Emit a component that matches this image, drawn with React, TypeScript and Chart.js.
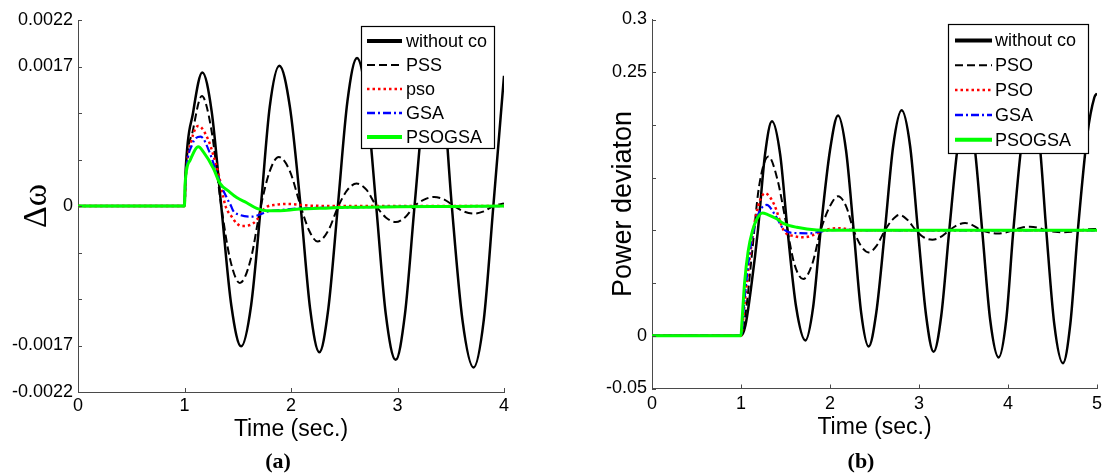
import React, { useEffect, useRef } from 'react';
import { Chart, registerables } from 'chart.js';

Chart.register(...registerables);

const FONT = "'Liberation Sans', Arial, sans-serif";
const AXIS = '#4a4a4a';

// ---------- Chart (a): speed deviation ----------
const labelsA = ['without co', 'PSS', 'pso', 'GSA', 'PSOGSA'];
const xTicksA = [0, 1, 2, 3, 4];
const xLabelsA = ['0', '1', '2', '3', '4'];
const yTicksA = [-0.0022, -0.00165, -0.0011, -0.00055, 0, 0.00055, 0.0011, 0.00165, 0.0022];
const yLabelsA = ['-0.0022', '-0.0017', '', '', '0', '', '', '0.0017', '0.0022'];

const aNoCoT = [0, 1.0, 1.01, 1.08, 1.167, 1.255, 1.345, 1.44, 1.532, 1.625, 1.717, 1.8, 1.89, 1.99, 2.09, 2.18, 2.266, 2.35, 2.44, 2.53, 2.62, 2.71, 2.8, 2.89, 2.983, 3.07, 3.16, 3.255, 3.35, 3.43, 3.51, 3.61, 3.714, 3.81, 3.9, 4.0];
const aNoCoV = [0, 0, 0.0004, 0.0011, 0.00158, 0.00112, 0, -0.00118, -0.00166, -0.00118, 0, 0.00117, 0.00166, 0.00117, 0, -0.00122, -0.00173, -0.00122, 0, 0.00124, 0.00175, 0.00124, 0, -0.00128, -0.00182, -0.00128, 0, 0.0013, 0.00184, 0.0013, 0, -0.00135, -0.00191, -0.00135, 0, 0.00154];

const aPssT = [0, 1.0, 1.01, 1.08, 1.163, 1.25, 1.345, 1.43, 1.52, 1.62, 1.717, 1.8, 1.885, 1.99, 2.09, 2.17, 2.25, 2.35, 2.445, 2.53, 2.615, 2.71, 2.8, 2.89, 2.983, 3.07, 3.16, 3.25, 3.343, 3.44, 3.53, 3.62, 3.714, 3.81, 3.9, 4.0];
const aPssV = [0, 0, 0.00035, 0.0009, 0.0013, 0.00092, 0, -0.00064, -0.00091, -0.00064, 0, 0.00041, 0.00058, 0.00041, 0, -0.00029, -0.00042, -0.00029, 0, 0.00019, 0.000265, 0.00019, 0, -0.000135, -0.00019, -0.000135, 0, 0.000076, 0.000107, 0.000076, 0, -0.000064, -0.00009, -0.000064, 0, 0.00003];

const aPsoT = [0, 1.0, 1.01, 1.067, 1.13, 1.224, 1.271, 1.318, 1.385, 1.443, 1.49, 1.537, 1.615, 1.678, 1.725, 1.772, 1.86, 1.96, 2.08, 2.2, 2.5, 4.0];
const aPsoV = [0, 0, 0.0003, 0.00078, 0.000947, 0.00078, 0.0006, 0.00039, 0, -0.000126, -0.000205, -0.000237, -0.000225, -0.000166, -0.000067, -0.00001, 0.000015, 0.000024, 0.000015, 0.000003, 0, 0];

const aGsaT = [0, 1.0, 1.01, 1.07, 1.152, 1.239, 1.302, 1.349, 1.412, 1.437, 1.459, 1.52, 1.63, 1.709, 1.772, 1.897, 2.115, 2.43, 3.0, 4.0];
const aGsaV = [0, 0, 0.0003, 0.00072, 0.00082, 0.000623, 0.000387, 0.000228, 0.00006, 0, -0.00006, -0.000106, -0.000126, -0.0001, -0.000067, -0.000047, -0.000027, -0.00002, -0.000008, 0];

const aPgT = [0, 1.0, 1.005, 1.052, 1.13, 1.177, 1.271, 1.333, 1.42, 1.49, 1.584, 1.678, 1.772, 1.897, 2.053, 2.27, 2.554, 3.0, 3.5, 4.0];
const aPgV = [0, 0, 0.00025, 0.00054, 0.0007, 0.00064, 0.000446, 0.000268, 0.00017, 0.0001, 0.000039, -0.000028, -0.000055, -0.000055, -0.000039, -0.000028, -0.000016, -0.00001, -0.000005, 0];

// ---------- Chart (b): power deviation ----------
const labelsB = ['without co', 'PSO', 'PSO', 'GSA', 'PSOGSA'];
const xTicksB = [0, 1, 2, 3, 4, 5];
const xLabelsB = ['0', '1', '2', '3', '4', '5'];
const yTicksB = [-0.05, 0, 0.05, 0.1, 0.15, 0.2, 0.25, 0.3];
const yLabelsB = ['-0.05', '0', '', '', '', '', '0.25', '0.3'];

const bNoCoT = [0, 1.0, 1.05, 1.12, 1.19, 1.27, 1.348, 1.44, 1.523, 1.62, 1.723, 1.81, 1.895, 2.0, 2.09, 2.18, 2.266, 2.35, 2.434, 2.52, 2.617, 2.71, 2.805, 2.9, 2.988, 3.08, 3.164, 3.25, 3.34, 3.44, 3.53, 3.62, 3.71, 3.8, 3.895, 3.98, 4.06, 4.16, 4.26, 4.35, 4.43, 4.52, 4.617, 4.7, 4.785, 4.89, 4.97, 5.0];
const bNoCoV = [0, 0, 0.01, 0.05, 0.1, 0.172, 0.2035, 0.172, 0.1, 0.027, -0.0044, 0.027, 0.1, 0.176, 0.2089, 0.176, 0.1, 0.022, -0.0101, 0.022, 0.1, 0.18, 0.2139, 0.18, 0.1, 0.019, -0.0152, 0.019, 0.1, 0.183, 0.219, 0.183, 0.1, 0.015, -0.0206, 0.015, 0.1, 0.187, 0.224, 0.187, 0.1, 0.011, -0.026, 0.011, 0.1, 0.19, 0.226, 0.23];

const bPssT = [0, 1.0, 1.05, 1.12, 1.2, 1.309, 1.41, 1.5, 1.6, 1.7, 1.8, 1.895, 2.0, 2.09, 2.18, 2.266, 2.35, 2.434, 2.52, 2.617, 2.7, 2.78, 2.87, 2.965, 3.05, 3.15, 3.24, 3.34, 3.43, 3.517, 3.6, 3.7, 3.79, 3.88, 3.97, 4.06, 4.15, 4.247, 4.34, 4.43, 4.53, 4.62, 4.71, 4.8, 4.9, 5.0];
const bPssV = [0, 0, 0.02, 0.075, 0.14, 0.17, 0.148, 0.11, 0.068, 0.0538, 0.068, 0.1, 0.123, 0.1323, 0.123, 0.1, 0.085, 0.0791, 0.085, 0.1, 0.11, 0.1148, 0.11, 0.1, 0.0935, 0.0912, 0.0935, 0.1, 0.105, 0.107, 0.105, 0.1, 0.098, 0.097, 0.098, 0.1, 0.1025, 0.1035, 0.1025, 0.1, 0.0987, 0.0982, 0.0987, 0.1, 0.101, 0.1013];

const bPsoT = [0, 1.0, 1.04, 1.1, 1.17, 1.27, 1.37, 1.48, 1.6, 1.719, 1.85, 1.95, 2.11, 2.3, 5.0];
const bPsoV = [0, 0, 0.03, 0.075, 0.115, 0.1352, 0.125, 0.1, 0.0945, 0.0935, 0.097, 0.1005, 0.102, 0.1, 0.1];

const bGsaT = [0, 1.0, 1.04, 1.1, 1.18, 1.289, 1.38, 1.48, 1.6, 1.775, 1.9, 2.1, 2.5, 5.0];
const bGsaV = [0, 0, 0.035, 0.08, 0.112, 0.1241, 0.115, 0.101, 0.0975, 0.0972, 0.099, 0.1005, 0.1, 0.1];

const bPgT = [0, 1.0, 1.01, 1.04, 1.08, 1.13, 1.18, 1.24, 1.3, 1.4, 1.476, 1.627, 1.85, 2.2, 5.0];
const bPgV = [0, 0, 0.012, 0.05, 0.08, 0.1, 0.111, 0.1165, 0.115, 0.111, 0.1067, 0.1029, 0.1004, 0.1, 0.1];

// ---------- styles ----------
const STYLES = [
  { color: '#000000', width: 2.5, dash: [] as number[], legendWidth: 4 },
  { color: '#000000', width: 2, dash: [8, 4], legendWidth: 2 },
  { color: '#ff0000', width: 2.5, dash: [2.5, 3], legendWidth: 2.5 },
  { color: '#0000ff', width: 2.2, dash: [8, 3, 2, 3], legendWidth: 2.5 },
  { color: '#00ff00', width: 3, dash: [] as number[], legendWidth: 4 },
];

function pts(ts: number[], vs: number[]) {
  return ts.map((t, i) => ({ x: t, y: vs[i] }));
}

function makeDatasets(labels: string[], series: { x: number; y: number }[][]) {
  return series.map((data, i) => ({
    label: labels[i],
    data,
    borderColor: STYLES[i].color,
    borderWidth: STYLES[i].width,
    borderDash: STYLES[i].dash,
    pointRadius: 0,
    fill: false,
    tension: 0.4,
    cubicInterpolationMode: 'monotone' as const,
    order: 4 - i,
  }));
}

function inwardTicks() {
  return {
    id: 'inwardTicks',
    afterDatasetsDraw(chart: any) {
      const { ctx, chartArea, scales } = chart;
      ctx.save();
      ctx.strokeStyle = AXIS;
      ctx.lineWidth = 1;
      ctx.beginPath();
      scales.x.ticks.forEach((t: any) => {
        const px = Math.round(scales.x.getPixelForValue(t.value)) + 0.5;
        ctx.moveTo(px, chartArea.bottom);
        ctx.lineTo(px, chartArea.bottom - 4);
      });
      scales.y.ticks.forEach((t: any) => {
        const py = Math.round(scales.y.getPixelForValue(t.value)) + 0.5;
        ctx.moveTo(chartArea.left, py);
        ctx.lineTo(chartArea.left + 4, py);
      });
      ctx.stroke();
      ctx.restore();
    },
  };
}

function boxLegend(cfg: { box: number[]; rowY: number; rowStep: number; lineX0: number; lineX1: number; textX: number }) {
  return {
    id: 'boxLegend',
    afterDatasetsDraw(chart: any) {
      const { ctx } = chart;
      const [x0, y0, x1, y1] = cfg.box;
      ctx.save();
      ctx.fillStyle = '#ffffff';
      ctx.fillRect(x0, y0, x1 - x0, y1 - y0);
      ctx.strokeStyle = '#000000';
      ctx.lineWidth = 1.2;
      ctx.setLineDash([]);
      ctx.strokeRect(x0 + 0.5, y0 + 0.5, x1 - x0, y1 - y0);
      chart.data.datasets.forEach((ds: any, i: number) => {
        const y = cfg.rowY + i * cfg.rowStep;
        ctx.beginPath();
        ctx.setLineDash(STYLES[i].dash);
        ctx.lineWidth = STYLES[i].legendWidth;
        ctx.strokeStyle = STYLES[i].color;
        ctx.moveTo(cfg.lineX0, y);
        ctx.lineTo(cfg.lineX1, y);
        ctx.stroke();
        ctx.setLineDash([]);
        ctx.fillStyle = '#000000';
        ctx.font = `18px ${FONT}`;
        ctx.textBaseline = 'middle';
        ctx.textAlign = 'left';
        ctx.fillText(ds.label, cfg.textX, y + 1);
      });
      ctx.restore();
    },
  };
}

function makeConfig(o: {
  labels: string[];
  series: { x: number; y: number }[][];
  xTicks: number[];
  xLabels: string[];
  yTicks: number[];
  yLabels: string[];
  xMax: number;
  padTop: number;
  padRight: number;
  yWidth: number;
  xHeight: number;
  xTitlePad: number;
  xLabelPad: number;
  yTitle: string;
  yTitleFont: any;
  yTitlePad: number;
  legend: any;
}) {
  return {
    type: 'line' as const,
    data: { datasets: makeDatasets(o.labels, o.series) },
    options: {
      animation: false as const,
      responsive: false,
      maintainAspectRatio: false,
      events: [] as any[],
      layout: { padding: { top: o.padTop, right: o.padRight, left: 0, bottom: 0 } },
      plugins: { legend: { display: false }, tooltip: { enabled: false } },
      scales: {
        x: {
          type: 'linear' as const,
          min: 0,
          max: o.xMax,
          afterBuildTicks: (s: any) => {
            s.ticks = o.xTicks.map((value) => ({ value }));
          },
          afterFit: (s: any) => {
            s.height = o.xHeight;
          },
          grid: { display: false, drawTicks: false },
          border: { display: true, color: AXIS, width: 1 },
          ticks: {
            autoSkip: false,
            maxRotation: 0,
            padding: o.xLabelPad,
            color: '#000',
            font: { family: FONT, size: 18 },
            callback: (_v: any, i: number) => o.xLabels[i],
          },
          title: {
            display: true,
            text: 'Time (sec.)',
            color: '#000',
            font: { family: FONT, size: 23 },
            padding: { top: 0, bottom: o.xTitlePad },
          },
        },
        y: {
          type: 'linear' as const,
          min: o.yTicks[0],
          max: o.yTicks[o.yTicks.length - 1],
          afterBuildTicks: (s: any) => {
            s.ticks = o.yTicks.map((value) => ({ value }));
          },
          afterFit: (s: any) => {
            s.width = o.yWidth;
          },
          grid: { display: false, drawTicks: false },
          border: { display: true, color: AXIS, width: 1 },
          ticks: {
            autoSkip: false,
            padding: 5,
            color: '#000',
            font: { family: FONT, size: 18 },
            callback: (_v: any, i: number) => o.yLabels[i],
          },
          title: {
            display: true,
            text: o.yTitle,
            color: '#000',
            font: o.yTitleFont,
            padding: { top: o.yTitlePad, bottom: 0 },
          },
        },
      },
    },
    plugins: [inwardTicks(), boxLegend(o.legend)],
  };
}

export default function App() {
  const refA = useRef<HTMLCanvasElement>(null);
  const refB = useRef<HTMLCanvasElement>(null);

  useEffect(() => {
    document.body.style.margin = '0';
    const cfgA = makeConfig({
      labels: labelsA,
      series: [pts(aNoCoT, aNoCoV), pts(aPssT, aPssV), pts(aPsoT, aPsoV), pts(aGsaT, aGsaV), pts(aPgT, aPgV)],
      xTicks: xTicksA,
      xLabels: xLabelsA,
      yTicks: yTicksA,
      yLabels: yLabelsA,
      xMax: 4,
      padTop: 20,
      padRight: 56,
      yWidth: 78,
      xHeight: 82,
      xTitlePad: 31,
      xLabelPad: 3,
      yTitle: 'Δω',
      yTitleFont: { family: "'Liberation Serif', serif", size: 34 },
      yTitlePad: 17,
      legend: { box: [361, 26, 494, 148], rowY: 41, rowStep: 24, lineX0: 367, lineX1: 402, textX: 406 },
    });
    const cfgB = makeConfig({
      labels: labelsB,
      series: [pts(bNoCoT, bNoCoV), pts(bPssT, bPssV), pts(bPsoT, bPsoV), pts(bGsaT, bGsaV), pts(bPgT, bPgV)],
      xTicks: xTicksB,
      xLabels: xLabelsB,
      yTicks: yTicksB,
      yLabels: yLabelsB,
      xMax: 5,
      padTop: 19.5,
      padRight: 23,
      yWidth: 92,
      xHeight: 85.5,
      xTitlePad: 33,
      xLabelPad: 5,
      yTitle: 'Power deviaton',
      yTitleFont: { family: FONT, size: 27 },
      yTitlePad: 47,
      legend: { box: [388, 24, 528, 153], rowY: 40.5, rowStep: 24.8, lineX0: 395, lineX1: 432, textX: 435 },
    });
    const a = new Chart(refA.current as HTMLCanvasElement, cfgA as any);
    const b = new Chart(refB.current as HTMLCanvasElement, cfgB as any);
    return () => {
      a.destroy();
      b.destroy();
    };
  }, []);

  const capStyle: React.CSSProperties = {
    position: 'absolute',
    top: 461,
    transform: 'translate(-50%, -50%)',
    font: "bold 22px 'Liberation Serif', 'Times New Roman', serif",
    color: '#000',
    whiteSpace: 'nowrap',
  };

  return (
    <div style={{ position: 'fixed', left: 0, top: 0, width: 1102, height: 474, background: '#fff', overflow: 'hidden' }}>
      <div style={{ position: 'absolute', left: 0, top: 0, width: 560, height: 474 }}>
        <canvas ref={refA} width={560} height={474} style={{ display: 'block' }} />
      </div>
      <div style={{ position: 'absolute', left: 560, top: 0, width: 542, height: 474, overflow: 'hidden' }}>
        <canvas ref={refB} width={560} height={474} style={{ display: 'block' }} />
      </div>
      <div style={{ ...capStyle, left: 278 }}>(a)</div>
      <div style={{ ...capStyle, left: 861 }}>(b)</div>
    </div>
  );
}
